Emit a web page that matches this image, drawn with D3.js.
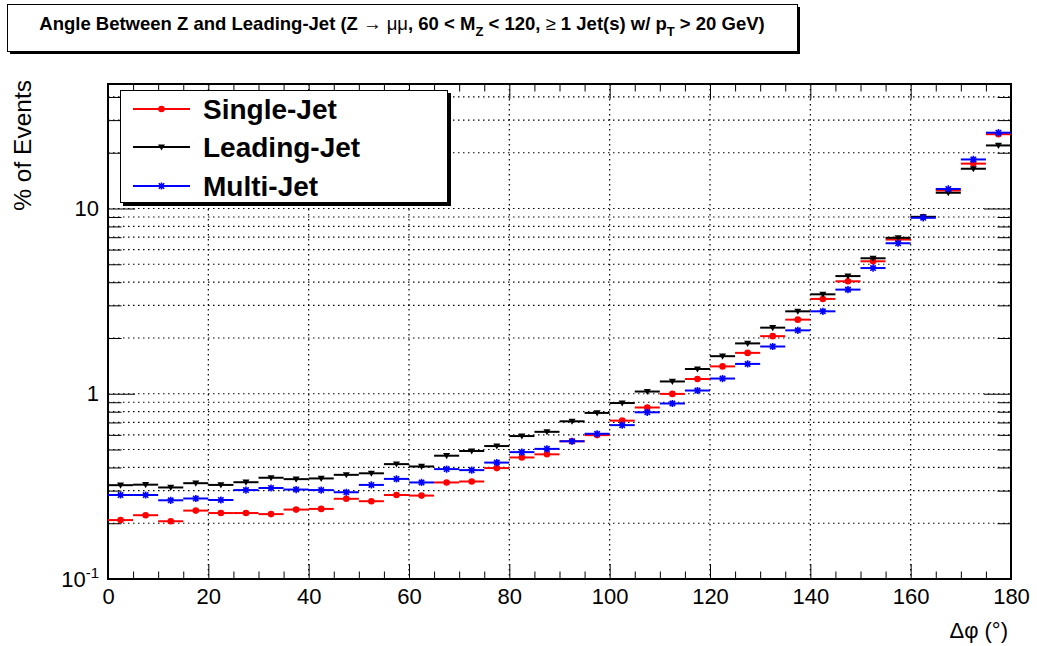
<!DOCTYPE html>
<html>
<head>
<meta charset="utf-8">
<script src="https://cdn.jsdelivr.net/npm/d3@7"></script>
<style>
  body { margin: 0; background: #fff; }
  svg { display: block; }
  text { font-family: "Liberation Sans", Arial, Helvetica, sans-serif; fill: #000; }
</style>
</head>
<body>
<svg id="chart" width="1037" height="646"></svg>
<script>
// Bin centres of the Δφ histogram (degrees), 5° wide bins
const binCenters = [2.5, 7.5, 12.5, 17.5, 22.5, 27.5, 32.5, 37.5, 42.5, 47.5, 52.5, 57.5,
  62.5, 67.5, 72.5, 77.5, 82.5, 87.5, 92.5, 97.5, 102.5, 107.5, 112.5, 117.5,
  122.5, 127.5, 132.5, 137.5, 142.5, 147.5, 152.5, 157.5, 162.5, 167.5, 172.5, 177.5];
const binWidth = 5;

// % of events per bin
const singleJet = [0.208, 0.221, 0.205, 0.234, 0.227, 0.227, 0.224, 0.237, 0.239, 0.271, 0.263, 0.284,
  0.282, 0.332, 0.336, 0.397, 0.453, 0.471, 0.554, 0.598, 0.716, 0.843, 0.998, 1.201,
  1.405, 1.662, 2.046, 2.512, 3.250, 4.046, 5.189, 6.798, 8.995, 12.51, 17.47, 25.18];
const leadingJet = [0.321, 0.323, 0.312, 0.329, 0.322, 0.333, 0.352, 0.346, 0.349, 0.365, 0.372, 0.417,
  0.405, 0.463, 0.491, 0.522, 0.591, 0.623, 0.710, 0.788, 0.891, 1.028, 1.165, 1.360,
  1.595, 1.870, 2.274, 2.786, 3.442, 4.317, 5.387, 6.943, 9.019, 12.16, 16.39, 21.90];
const multiJet = [0.284, 0.284, 0.266, 0.272, 0.267, 0.302, 0.310, 0.304, 0.302, 0.294, 0.322, 0.347,
  0.332, 0.392, 0.387, 0.425, 0.484, 0.504, 0.554, 0.608, 0.677, 0.794, 0.886, 1.041,
  1.208, 1.449, 1.799, 2.199, 2.786, 3.649, 4.770, 6.493, 8.907, 12.75, 18.40, 25.66];

// Axis ticks
const xMajorTicks = [0, 20, 40, 60, 80, 100, 120, 140, 160, 180];
const xMinorTicks = [5, 10, 15, 25, 30, 35, 45, 50, 55, 65, 70, 75, 85, 90, 95, 105, 110, 115,
  125, 130, 135, 145, 150, 155, 165, 170, 175];
const yMajorTicks = [0.1, 1, 10];
const yMinorTicks = [0.2, 0.3, 0.4, 0.5, 0.6, 0.7, 0.8, 0.9, 2, 3, 4, 5, 6, 7, 8, 9, 20, 30, 40];
const xGridTicks = [20, 40, 60, 80, 100, 120, 140, 160];
const yGridTicks = [0.2, 0.3, 0.4, 0.5, 0.6, 0.7, 0.8, 0.9, 1, 2, 3, 4, 5, 6, 7, 8, 9, 10, 20, 30, 40];

const series = [
  { name: "Single-Jet", values: singleJet, color: "#ff0000", marker: "circle" },
  { name: "Leading-Jet", values: leadingJet, color: "#000000", marker: "triangle" },
  { name: "Multi-Jet", values: multiJet, color: "#0000ff", marker: "star" }
];

const frame = { left: 108, right: 1011, top: 84, bottom: 579 };

const svg = d3.select("#chart");

const x = d3.scaleLinear().domain([0, 180]).range([frame.left, frame.right]);
const y = d3.scaleLog().domain([0.1, 47]).range([frame.bottom, frame.top]);

// ---- Title box ----
const title = svg.append("g");
title.append("rect").attr("x", 10).attr("y", 7).attr("width", 790).attr("height", 47).attr("fill", "#000");
title.append("rect").attr("x", 7.5).attr("y", 4.5).attr("width", 790).attr("height", 47)
  .attr("fill", "#fff").attr("stroke", "#000").attr("stroke-width", 1);
const tt = title.append("text").attr("x", 402).attr("y", 30).attr("text-anchor", "middle")
  .attr("font-size", 18.5).attr("font-weight", "bold");
tt.append("tspan").text("Angle Between Z and Leading-Jet (Z ");
tt.append("tspan").attr("font-weight", "normal").text("\u2192 \u03bc\u03bc");
tt.append("tspan").text(", 60 < M");
tt.append("tspan").attr("font-size", 13).attr("dy", 6).text("Z");
tt.append("tspan").attr("dy", -6).text(" < 120, ");
tt.append("tspan").attr("font-weight", "normal").text("\u2265");
tt.append("tspan").text(" 1 Jet(s) w/ p");
tt.append("tspan").attr("font-size", 13).attr("dy", 6).text("T");
tt.append("tspan").attr("dy", -6).text(" > 20 GeV)");

// ---- Grid ----
const grid = svg.append("g").attr("stroke", "#000").attr("stroke-width", 1.2)
  .attr("stroke-dasharray", "1.5,3.5");
grid.selectAll("line.gx").data(xGridTicks).join("line")
  .attr("x1", d => x(d)).attr("x2", d => x(d))
  .attr("y1", frame.top).attr("y2", frame.bottom);
grid.selectAll("line.gy").data(yGridTicks).join("line")
  .attr("x1", frame.left).attr("x2", frame.right)
  .attr("y1", d => y(d)).attr("y2", d => y(d));

// ---- Axes (ticks pointing inwards on all four sides) ----
function styleAxis(g) {
  g.select(".domain").remove();
  g.selectAll(".tick line").attr("stroke", "#000").attr("stroke-width", 1);
}
svg.append("g").attr("transform", `translate(0,${frame.bottom})`)
  .call(d3.axisBottom(x).tickValues(xMajorTicks).tickSizeInner(-15).tickSizeOuter(0).tickPadding(9)
    .tickFormat(d3.format("d")))
  .call(styleAxis)
  .call(g => g.selectAll("text").attr("font-size", 22).attr("font-family", "Liberation Sans, Arial, sans-serif"));
svg.append("g").attr("transform", `translate(0,${frame.bottom})`)
  .call(d3.axisBottom(x).tickValues(xMinorTicks).tickSizeInner(-7.5).tickSizeOuter(0).tickFormat(""))
  .call(styleAxis);
svg.append("g").attr("transform", `translate(0,${frame.top})`)
  .call(d3.axisTop(x).tickValues(xMajorTicks).tickSizeInner(-15).tickSizeOuter(0).tickFormat(""))
  .call(styleAxis);
svg.append("g").attr("transform", `translate(0,${frame.top})`)
  .call(d3.axisTop(x).tickValues(xMinorTicks).tickSizeInner(-7.5).tickSizeOuter(0).tickFormat(""))
  .call(styleAxis);

const yAxisLeft = svg.append("g").attr("transform", `translate(${frame.left},0)`)
  .call(d3.axisLeft(y).tickValues(yMajorTicks).tickSizeInner(-27).tickSizeOuter(0).tickPadding(9)
    .tickFormat(d => d >= 1 ? String(d) : ""))
  .call(styleAxis);
yAxisLeft.selectAll("text").attr("font-size", 22).attr("font-family", "Liberation Sans, Arial, sans-serif");
// exponent-style label for 0.1
yAxisLeft.selectAll(".tick").filter(d => d < 1).select("text").each(function () {
  const t = d3.select(this);
  t.append("tspan").text("10");
  t.append("tspan").attr("font-size", 15).attr("dy", "-0.55em").text("-1");
});
svg.append("g").attr("transform", `translate(${frame.left},0)`)
  .call(d3.axisLeft(y).tickValues(yMinorTicks).tickSizeInner(-13.5).tickSizeOuter(0).tickFormat(""))
  .call(styleAxis);
svg.append("g").attr("transform", `translate(${frame.right},0)`)
  .call(d3.axisRight(y).tickValues(yMajorTicks).tickSizeInner(-27).tickSizeOuter(0).tickFormat(""))
  .call(styleAxis);
svg.append("g").attr("transform", `translate(${frame.right},0)`)
  .call(d3.axisRight(y).tickValues(yMinorTicks).tickSizeInner(-13.5).tickSizeOuter(0).tickFormat(""))
  .call(styleAxis);

// Frame
svg.append("rect").attr("x", frame.left).attr("y", frame.top)
  .attr("width", frame.right - frame.left).attr("height", frame.bottom - frame.top)
  .attr("fill", "none").attr("stroke", "#000").attr("stroke-width", 2);

// Axis titles
svg.append("text").attr("x", frame.right - 3).attr("y", 638).attr("text-anchor", "end")
  .attr("font-size", 22).text("\u0394\u03c6 (\u00b0)");
svg.append("text").attr("transform", `translate(31,${frame.top - 4}) rotate(-90)`)
  .attr("text-anchor", "end").attr("font-size", 24.5).text("% of Events");

// ---- Markers ----
function drawMarker(g, type, color) {
  if (type === "circle") {
    g.append("circle").attr("r", 3.3).attr("fill", color);
  } else if (type === "triangle") {
    g.append("path").attr("d", "M-3.5,-2.6L3.5,-2.6L0,3.5Z").attr("fill", color);
  } else {
    const s = 3.6;
    g.append("path")
      .attr("d", `M${-s},0L${s},0M0,${-s}L0,${s}M${-s * 0.75},${-s * 0.75}L${s * 0.75},${s * 0.75}M${-s * 0.75},${s * 0.75}L${s * 0.75},${-s * 0.75}`)
      .attr("stroke", color).attr("stroke-width", 1.6).attr("fill", "none");
  }
}

const plot = svg.append("g");
series.forEach(s => {
  const pts = binCenters.map((c, i) => ({ c, v: s.values[i] }));
  const g = plot.append("g");
  g.selectAll("line").data(pts).join("line")
    .attr("x1", d => x(d.c - binWidth / 2)).attr("x2", d => x(d.c + binWidth / 2))
    .attr("y1", d => y(d.v)).attr("y2", d => y(d.v))
    .attr("stroke", s.color).attr("stroke-width", 2);
  g.selectAll("g.m").data(pts).join("g").attr("class", "m")
    .attr("transform", d => `translate(${x(d.c)},${y(d.v)})`)
    .each(function () { drawMarker(d3.select(this), s.marker, s.color); });
});

// ---- Legend ----
const legend = svg.append("g");
legend.append("rect").attr("x", 123).attr("y", 93).attr("width", 328).attr("height", 113).attr("fill", "#000");
legend.append("rect").attr("x", 120.5).attr("y", 90.5).attr("width", 327).attr("height", 112)
  .attr("fill", "#fff").attr("stroke", "#000").attr("stroke-width", 1);
const legendRows = [109, 147, 186];
series.forEach((s, i) => {
  const ly = legendRows[i];
  legend.append("line").attr("x1", 133).attr("x2", 190).attr("y1", ly).attr("y2", ly)
    .attr("stroke", s.color).attr("stroke-width", 2);
  drawMarker(legend.append("g").attr("transform", `translate(161.5,${ly})`), s.marker, s.color);
  legend.append("text").attr("x", 203).attr("y", ly + 10).attr("font-size", 28)
    .attr("font-weight", "bold").text(s.name);
});
</script>
</body>
</html>
